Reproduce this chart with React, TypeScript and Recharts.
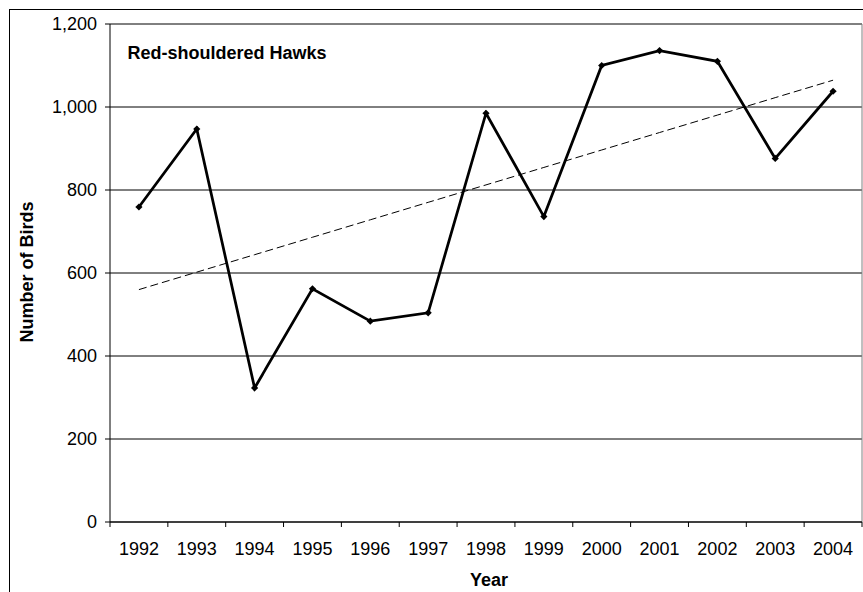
import React from 'react';
import {
  ComposedChart,
  Line,
  XAxis,
  YAxis,
  CartesianGrid,
  ReferenceLine,
  Customized,
} from 'recharts';

const years = ['1992', '1993', '1994', '1995', '1996', '1997', '1998', '1999', '2000', '2001', '2002', '2003', '2004'];
const birdCounts = [759, 947, 323, 562, 484, 504, 985, 736, 1100, 1136, 1110, 876, 1038];
const yTicks = [0, 200, 400, 600, 800, 1000, 1200];
const chartTitle = 'Red-shouldered Hawks';
const xTitle = 'Year';
const yTitle = 'Number of Birds';

const FONT = "Arial, 'Liberation Sans', sans-serif";

// Linear (least squares) trendline, as in the spreadsheet chart
const n = birdCounts.length;
const meanX = (n - 1) / 2;
const meanY = birdCounts.reduce((a, b) => a + b, 0) / n;
let sxy = 0;
let sxx = 0;
birdCounts.forEach((v, i) => {
  sxy += (i - meanX) * (v - meanY);
  sxx += (i - meanX) * (i - meanX);
});
const slope = sxy / sxx;
const intercept = meanY - slope * meanX;

const data = years.map((year, i) => ({
  idx: i,
  year,
  count: birdCounts[i],
  trend: intercept + slope * i,
}));

// integer ticks carry the labels, half-way ticks carry the tick marks
const xTicks: number[] = [];
for (let k = -1; k <= 2 * n - 1; k++) xTicks.push(k / 2);

const TICK_SIZE = 5;
const TICK_MARGIN = 15;

const XTick = (props: any) => {
  const { x, y, payload } = props;
  const v = payload.value;
  if (Number.isInteger(v)) {
    return (
      <text x={x} y={y} dy="0.71em" textAnchor="middle" fontSize={18} fill="#000" fontFamily={FONT}>
        {years[v]}
      </text>
    );
  }
  const axisY = y - TICK_SIZE - TICK_MARGIN;
  return <line x1={x} x2={x} y1={axisY} y2={axisY + TICK_SIZE} stroke="#000" strokeWidth={1} />;
};

const Diamond = (props: any) => {
  const { cx, cy } = props;
  if (cx == null || cy == null) return null;
  const r = 3.6;
  return (
    <polygon
      points={`${cx},${cy - r} ${cx + r},${cy} ${cx},${cy + r} ${cx - r},${cy}`}
      fill="#000"
      stroke="none"
    />
  );
};

const Titles = () => (
  <g>
    <text x={117.5} y={49.3} fontSize={18} fontWeight="bold" fill="#000" fontFamily={FONT}>
      {chartTitle}
    </text>
    <text x={479} y={575.5} fontSize={18} fontWeight="bold" fill="#000" fontFamily={FONT} textAnchor="middle">
      {xTitle}
    </text>
    <text
      x={23.3}
      y={262}
      fontSize={18}
      fontWeight="bold"
      fill="#000"
      fontFamily={FONT}
      textAnchor="middle"
      transform="rotate(-90, 23.3, 262)"
    >
      {yTitle}
    </text>
  </g>
);

export default function App() {
  return (
    <div
      style={{
        position: 'fixed',
        left: 9,
        top: 9,
        width: 853,
        height: 582,
        borderTop: '1px solid #000',
        borderLeft: '1px solid #000',
        background: '#fff',
        overflow: 'hidden',
      }}
    >
      <ComposedChart
        width={853}
        height={582}
        data={data}
        margin={{ top: 14, right: 1, left: 0, bottom: 0 }}
      >
        <CartesianGrid horizontal vertical={false} stroke="#000" strokeWidth={1} />
        <XAxis
          dataKey="idx"
          type="number"
          domain={[-0.5, n - 0.5]}
          ticks={xTicks}
          interval={0}
          tick={<XTick />}
          tickLine={false}
          tickSize={TICK_SIZE}
          tickMargin={TICK_MARGIN}
          axisLine={{ stroke: '#000', strokeWidth: 1 }}
          height={70}
        />
        <YAxis
          type="number"
          domain={[0, 1200]}
          ticks={yTicks}
          interval={0}
          width={100}
          tickSize={5}
          tickMargin={8}
          tickFormatter={(v: number) => v.toLocaleString('en-US')}
          tick={{ fontSize: 18, fill: '#000', fontFamily: FONT }}
          tickLine={{ stroke: '#000', strokeWidth: 1 }}
          axisLine={{ stroke: '#000', strokeWidth: 1 }}
        />
        <ReferenceLine y={1200} stroke="#808080" strokeWidth={1} />
        <ReferenceLine x={n - 0.5} stroke="#808080" strokeWidth={1} />
        <Line
          type="linear"
          dataKey="count"
          stroke="#000"
          strokeWidth={2.75}
          dot={<Diamond />}
          activeDot={false}
          isAnimationActive={false}
        />
        <Line
          type="linear"
          dataKey="trend"
          stroke="#000"
          strokeWidth={1}
          strokeDasharray="8 4"
          dot={false}
          activeDot={false}
          isAnimationActive={false}
        />
        <Customized component={<Titles />} />
      </ComposedChart>
    </div>
  );
}
